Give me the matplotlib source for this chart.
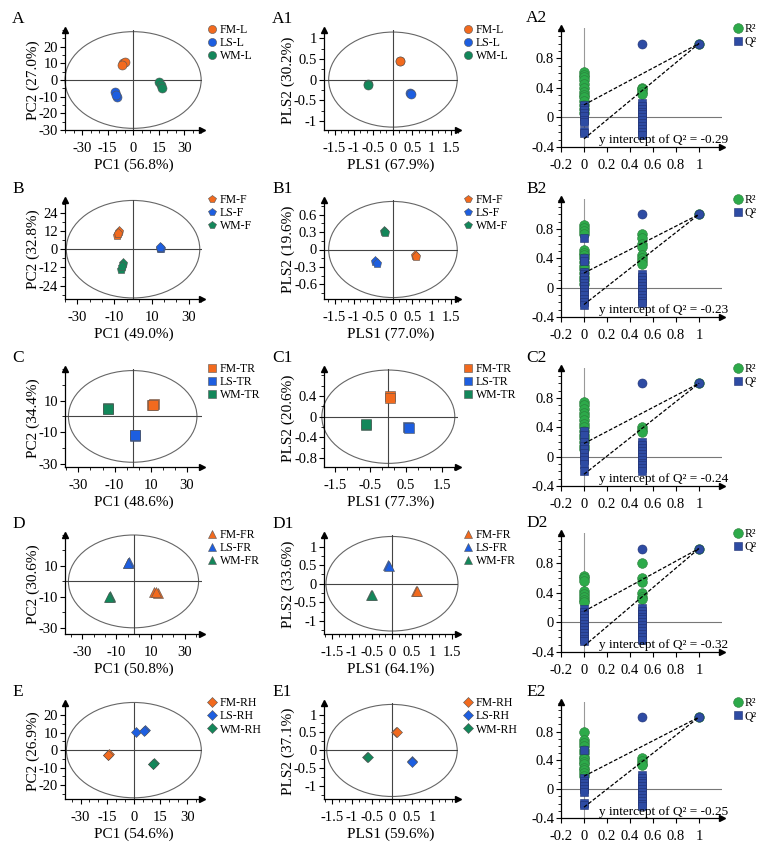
import matplotlib.pyplot as plt
from matplotlib.patches import Ellipse
from matplotlib.ticker import AutoMinorLocator, FixedLocator, FixedFormatter

plt.rcParams['font.family'] = ['Liberation Serif', 'DejaVu Serif']
plt.rcParams['axes.unicode_minus'] = False

group_colors = ['#F26A1E', '#1D5EE0', '#13875A']
r2_color = '#2DAA4A'
q2_color = '#2E4BA3'

# ---- score plots (PCA / PLS-DA), one list per group ----
A_names = ['FM-L', 'LS-L', 'WM-L']
A_x = [[-5.9, -5.0, -6.3], [-10.6, -9.4, -10.2], [15.3, 16.5, 17.0]]
A_y = [[10.3, 11.0, 9.2], [-7.4, -10.0, -8.8], [-1.2, -2.8, -4.5]]
A1_x = [[0.17, 0.19], [0.44, 0.46], [-0.65, -0.64]]
A1_y = [[0.46, 0.44], [-0.33, -0.36], [-0.11, -0.14]]

B_names = ['FM-F', 'LS-F', 'WM-F']
B_x = [[-8.9, -7.4, -8.2], [14.8, 15.2, 14.5], [-5.2, -6.7, -6.0]]
B_y = [[9.4, 12.0, 10.5], [1.1, 0.6, 1.5], [-9.2, -12.7, -11.0]]
B1_x = [[0.56, 0.6], [-0.45, -0.42], [-0.22, -0.21]]
B1_y = [[-0.1, -0.12], [-0.2, -0.23], [0.32, 0.3]]

C_names = ['FM-TR', 'LS-TR', 'WM-TR']
C_x = [[10.5, 11.8, 11.0], [1.3, 1.5, 1.2], [-13.8, -13.4, -13.6]]
C_y = [[7.4, 7.6, 7.2], [-12.0, -12.4, -11.8], [4.8, 5.2, 4.6]]
C1_x = [[0.05, 0.06], [0.55, 0.59], [-0.63, -0.62]]
C1_y = [[0.39, 0.37], [-0.19, -0.22], [-0.16, -0.14]]

D_names = ['FM-FR', 'LS-FR', 'WM-FR']
D_x = [[12.0, 14.4, 13.0], [-3.0, -2.8, -3.2], [-14.0, -13.6, -14.2]]
D_y = [[-7.0, -7.2, -6.8], [12.0, 12.3, 11.8], [-10.0, -9.7, -10.2]]
D1_x = [[0.61, 0.62], [-0.09, -0.08], [-0.52, -0.51]]
D1_y = [[-0.19, -0.2], [0.51, 0.49], [-0.3, -0.31]]

E_names = ['FM-RH', 'LS-RH', 'WM-RH']
E_x = [[-14.4, -14.0, -14.6], [1.4, 6.4, 5.8], [11.0, 11.5, 10.7]]
E_y = [[-2.7, -2.4, -3.0], [10.2, 11.3, 11.0], [-7.9, -7.6, -8.2]]
E1_x = [[0.11, 0.12], [0.5, 0.51], [-0.62, -0.61]]
E1_y = [[0.52, 0.5], [-0.3, -0.32], [-0.18, -0.17]]

pca_xlab = ['PC1 (56.8%)', 'PC1 (49.0%)', 'PC1 (48.6%)', 'PC1 (50.8%)', 'PC1 (54.6%)']
pca_ylab = ['PC2 (27.0%)', 'PC2 (32.8%)', 'PC2 (34.4%)', 'PC2 (30.6%)', 'PC2 (26.9%)']
pls_xlab = ['PLS1 (67.9%)', 'PLS1 (77.0%)', 'PLS1 (77.3%)', 'PLS1 (64.1%)', 'PLS1 (59.6%)']
pls_ylab = ['PLS2 (30.2%)', 'PLS2 (19.6%)', 'PLS2 (20.6%)', 'PLS2 (33.6%)', 'PLS2 (37.1%)']

# ---- permutation tests: values at x = 0 and x = 0.5 ----
A2_r2_0 = [0.62, 0.58, 0.55, 0.5, 0.45, 0.4, 0.35, 0.3, 0.27, 0.22, 0.17, 0.12, 0.06]
A2_q2_0 = [0.17, 0.13, 0.1, 0.06, 0.02, -0.03, -0.06, -0.18, -0.21]
A2_r2_5 = [0.4, 0.38, 0.35, 0.32]
A2_q2_5 = [0.2, 0.16, 0.12, 0.08, 0.04, 0.0, -0.04, -0.08, -0.12, -0.16, -0.2, -0.24]
B2_r2_0 = [0.85, 0.82, 0.78, 0.73, 0.52, 0.48, 0.44, 0.4, 0.35, 0.3, 0.25, 0.2, 0.15, 0.1, 0.05]
B2_q2_0 = [0.68, 0.41, 0.37, 0.22, 0.18, 0.14, 0.1, 0.06, 0.02, -0.02, -0.06, -0.1, -0.15, -0.2, -0.23]
B2_r2_5 = [0.73, 0.68, 0.6, 0.55, 0.45, 0.4, 0.36, 0.32]
B2_q2_5 = [0.18, 0.14, 0.1, 0.06, 0.02, -0.02, -0.06, -0.1, -0.14, -0.18, -0.21]
C2_r2_0 = [0.75, 0.7, 0.65, 0.6, 0.55, 0.5, 0.45, 0.4, 0.35, 0.3, 0.25, 0.2, 0.15, 0.1]
C2_q2_0 = [0.35, 0.3, 0.2, 0.15, 0.1, 0.05, 0.0, -0.05, -0.1, -0.2]
C2_r2_5 = [0.4, 0.37, 0.34]
C2_q2_5 = [0.2, 0.16, 0.12, 0.08, 0.04, 0.0, -0.04, -0.08, -0.12, -0.16, -0.2]
D2_r2_0 = [0.63, 0.6, 0.56, 0.42, 0.39, 0.35, 0.31, 0.27]
D2_q2_0 = [0.18, 0.14, 0.1, 0.06, 0.02, -0.02, -0.06, -0.1, -0.14, -0.18, -0.22, -0.25]
D2_r2_5 = [0.8, 0.6, 0.55, 0.4, 0.35, 0.32]
D2_q2_5 = [0.2, 0.16, 0.12, 0.08, 0.04, 0.0, -0.04, -0.08, -0.12, -0.16, -0.2, -0.24]
E2_r2_0 = [0.8, 0.68, 0.64, 0.6, 0.55, 0.5, 0.45, 0.42, 0.38, 0.35, 0.3, 0.26, 0.22, 0.18]
E2_q2_0 = [0.55, 0.15, 0.12, 0.08, 0.04, 0.0, -0.04, -0.19, -0.22]
E2_r2_5 = [0.43, 0.39, 0.35, 0.33]
E2_q2_5 = [0.2, 0.16, 0.12, 0.08, 0.04, 0.0, -0.04, -0.08, -0.12, -0.16, -0.2, -0.24]
r2_intercepts = [0.17, 0.2, 0.18, 0.15, 0.18]
q2_intercepts = [-0.29, -0.23, -0.24, -0.32, -0.25]

row_tags = ['A', 'B', 'C', 'D', 'E']
markers = ['o', 'p', 's', '^', 'D']

# layout in pixels
row_top = [30, 200, 369, 535, 703]
row_bot = [130, 299, 467, 634, 799]
perm_top = [28, 199, 368, 533, 702]
perm_bot = [147, 317, 486, 652, 818]
col_l = [65, 324, 561]
col_r = [202, 458, 722]

fig = plt.figure(figsize=(7.68, 8.52), dpi=100)


def box(l, r, t, b):
    return [l / 768, 1 - b / 852, (r - l) / 768, (b - t) / 852]


def style(ax, xticks, yticks, minor=True):
    for s in ['top', 'right']:
        ax.spines[s].set_visible(False)
    for s in ['left', 'bottom']:
        ax.spines[s].set_linewidth(0.9)
    ax.xaxis.set_major_locator(FixedLocator(xticks))
    ax.xaxis.set_major_formatter(FixedFormatter(['%g' % v for v in xticks]))
    ax.yaxis.set_major_locator(FixedLocator(yticks))
    ax.yaxis.set_major_formatter(FixedFormatter(['%g' % v for v in yticks]))
    if minor:
        ax.xaxis.set_minor_locator(AutoMinorLocator(3))
        ax.yaxis.set_minor_locator(AutoMinorLocator(2))
    ax.tick_params(which='major', direction='out', length=3.5, width=0.8, labelsize=10.5, pad=1.5)
    ax.tick_params(axis='x', which='major', pad=5)
    ax.tick_params(which='minor', direction='out', length=2, width=0.6)
    ax.plot([1], [0], marker='>', color='k', ms=4, transform=ax.transAxes, clip_on=False)
    ax.plot([0], [1], marker='^', color='k', ms=4, transform=ax.transAxes, clip_on=False)


def score_panel(ax, xs, ys, names, mk, xlim, ylim, xticks, yticks, ell, xlab, ylab):
    ax.set_xlim(xlim)
    ax.set_ylim(ylim)
    ax.add_patch(Ellipse((0, 0), ell[0], ell[1], fill=False, ec='#666666', lw=0.8, clip_on=False))
    ax.axhline(0, color='#444444', lw=0.8)
    ax.axvline(0, color='#444444', lw=0.8)
    for x, y, n, c in zip(xs, ys, names, group_colors):
        ax.plot(x, y, mk, ls='none', color=c, mec='#555555', mew=0.4,
                ms=6.5 if mk != 'D' else 5.5, label=n)
    style(ax, xticks, yticks)
    ax.set_xlabel(xlab, fontsize=11, labelpad=2.5)
    ax.set_ylabel(ylab, fontsize=11, labelpad=-1)
    ax.legend(loc='upper left', bbox_to_anchor=(1.045, 1.06), frameon=False, fontsize=8.5,
              handlelength=0.7, handletextpad=0.3, labelspacing=0.1, borderpad=0,
              borderaxespad=0, markerscale=0.9)


def perm_panel(ax, r2_0, q2_0, r2_5, q2_5, r2_int, q2_int):
    ax.set_xlim(-0.2, 1.2)
    ax.set_ylim(-0.4, 1.21)
    ax.axhline(0, color='#777777', lw=0.8)
    ax.axvline(0, color='#999999', lw=0.8)
    ax.plot([0] * len(r2_0), r2_0, 'o', color=r2_color, mec='#2a7a3a', mew=0.4, ms=7, label='R²')
    ax.plot([0.5] * len(r2_5), r2_5, 'o', color=r2_color, mec='#2a7a3a', mew=0.4, ms=7)
    ax.plot([1], [1.0], 'o', color=r2_color, mec='#2a7a3a', mew=0.4, ms=7)
    ax.plot([0] * len(q2_0), q2_0, 's', color=q2_color, mec='#1f3070', mew=0.4, ms=5.5, label='Q²')
    ax.plot([0.5] * len(q2_5), q2_5, 's', color=q2_color, mec='#1f3070', mew=0.4, ms=5.5)
    ax.plot([0.5, 1], [1.0, 1.0], 'o', color=q2_color, mec='#1f3070', mew=0.4, ms=6.5)
    ax.plot([0, 1], [r2_int, 1.0], '--', color='k', lw=0.9, dashes=(3, 1.5))
    ax.plot([0, 1], [q2_int, 1.0], '--', color='k', lw=0.9, dashes=(3, 1.5))
    ax.text(0.13, -0.31, 'y intercept of Q² = %.2f' % q2_int, fontsize=9.5, va='center')
    style(ax, [-0.2, 0, 0.2, 0.4, 0.6, 0.8, 1], [-0.4, 0, 0.4, 0.8], minor=False)
    ax.yaxis.set_minor_locator(AutoMinorLocator(4))
    ax.tick_params(which='minor', direction='out', length=2, width=0.6)
    ax.legend(loc='upper left', bbox_to_anchor=(1.08, 1.04), frameon=False, fontsize=8.5,
              handlelength=0.6, handletextpad=0.2, labelspacing=0.1, borderpad=0,
              borderaxespad=0, markerscale=1.0)


pca_data = [(A_x, A_y), (B_x, B_y), (C_x, C_y), (D_x, D_y), (E_x, E_y)]
pls_data = [(A1_x, A1_y), (B1_x, B1_y), (C1_x, C1_y), (D1_x, D1_y), (E1_x, E1_y)]
all_names = [A_names, B_names, C_names, D_names, E_names]
perm_data = [(A2_r2_0, A2_q2_0, A2_r2_5, A2_q2_5), (B2_r2_0, B2_q2_0, B2_r2_5, B2_q2_5),
             (C2_r2_0, C2_q2_0, C2_r2_5, C2_q2_5), (D2_r2_0, D2_q2_0, D2_r2_5, D2_q2_5),
             (E2_r2_0, E2_q2_0, E2_r2_5, E2_q2_5)]

pca_lims = [((-40, 40.5), (-30, 30)), ((-36.7, 37.2), (-32.7, 32.3)), ((-37.4, 38.3), (-32, 30)),
            ((-40, 40), (-34, 30)), ((-38.8, 38.4), (-28, 27))]
pca_ticks = [([-30, -15, 0, 15, 30], [-30, -20, -10, 0, 10, 20]),
             ([-30, -10, 10, 30], [-24, -12, 0, 12, 24]),
             ([-30, -10, 10, 30], [-30, -10, 10]),
             ([-30, -10, 10, 30], [-30, -10, 10]),
             ([-30, -15, 0, 15, 30], [-20, -10, 0, 10, 20])]
pca_ell = [(80, 58), (72, 64), (71, 58), (76, 60), (76, 54.6)]
pls_lims = [((-1.77, 1.67), (-1.22, 1.2)), ((-1.77, 1.67), (-0.85, 0.85)), ((-1.8, 1.95), (-0.97, 0.92)),
            ((-1.7, 1.65), (-1.35, 1.31)), ((-1.7, 1.65), (-1.35, 1.32))]
pls_ticks = [([-1.5, -1, -0.5, 0, 0.5, 1, 1.5], [-1, -0.5, 0, 0.5, 1]),
             ([-1.5, -1, -0.5, 0, 0.5, 1, 1.5], [-0.6, -0.3, 0, 0.3, 0.6]),
             ([-1.5, -0.5, 0.5, 1.5], [-0.8, -0.4, 0, 0.4]),
             ([-1.5, -1, -0.5, 0, 0.5, 1, 1.5], [-1, -0.5, 0, 0.5, 1]),
             ([-1.5, -1, -0.5, 0, 0.5, 1], [-1, -0.5, 0, 0.5, 1])]
pls_ell = [(3.3, 2.3), (3.3, 1.65), (3.72, 1.8), (3.3, 2.54), (3.26, 2.56)]

for i in range(5):
    ax = fig.add_axes(box(col_l[0], col_r[0], row_top[i], row_bot[i]))
    score_panel(ax, pca_data[i][0], pca_data[i][1], all_names[i], markers[i],
                pca_lims[i][0], pca_lims[i][1], pca_ticks[i][0], pca_ticks[i][1],
                pca_ell[i], pca_xlab[i], pca_ylab[i])
    fig.text(12 / 768, 1 - (row_top[i] - 11) / 852, row_tags[i], fontsize=12.5, va='center')

    ax = fig.add_axes(box(col_l[1], col_r[1], row_top[i], row_bot[i]))
    score_panel(ax, pls_data[i][0], pls_data[i][1], all_names[i], markers[i],
                pls_lims[i][0], pls_lims[i][1], pls_ticks[i][0], pls_ticks[i][1],
                pls_ell[i], pls_xlab[i], pls_ylab[i])
    fig.text(272 / 768, 1 - (row_top[i] - 11) / 852, row_tags[i] + '1', fontsize=12.5, va='center')

    ax = fig.add_axes(box(col_l[2], col_r[2], perm_top[i], perm_bot[i]))
    p = perm_data[i]
    perm_panel(ax, p[0], p[1], p[2], p[3], r2_intercepts[i], q2_intercepts[i])
    fig.text(526 / 768, 1 - (perm_top[i] - 10) / 852, row_tags[i] + '2', fontsize=12.5, va='center')

fig.savefig('out.png', dpi=100)
